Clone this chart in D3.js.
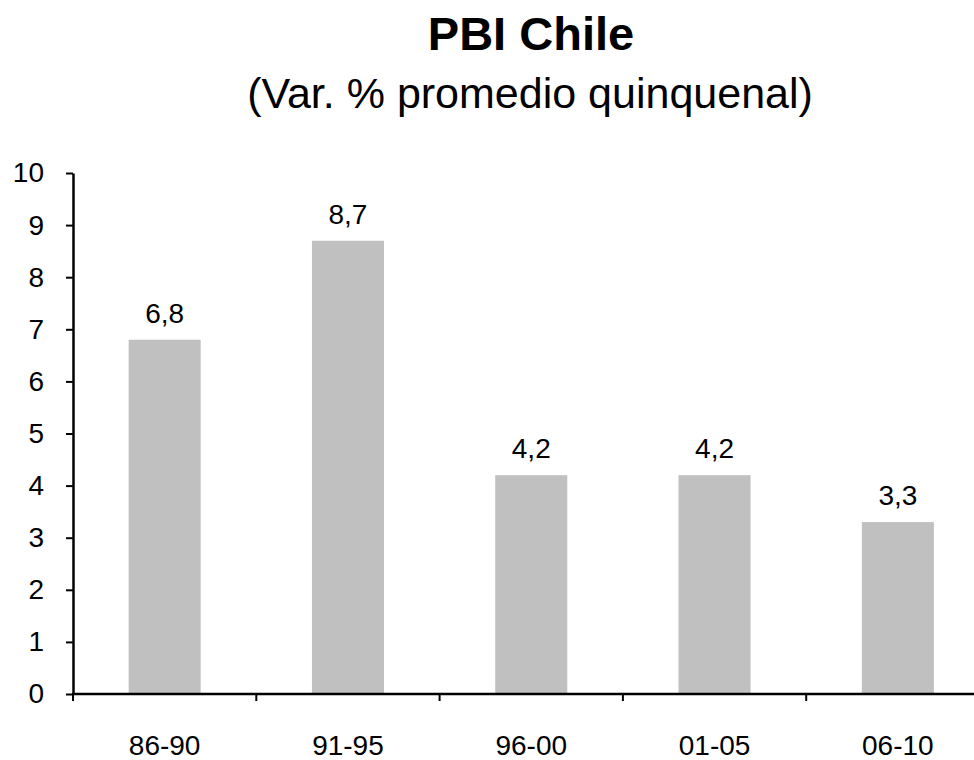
<!DOCTYPE html>
<html>
<head>
<meta charset="utf-8">
<script src="https://cdn.jsdelivr.net/npm/d3@7"></script>
<style>
  html, body { margin: 0; padding: 0; background: #fff; }
  svg { display: block; font-family: "Liberation Sans", Arial, sans-serif; }
</style>
</head>
<body>
<svg id="chart" width="974" height="760"></svg>
<script>
// Five-year average GDP growth, Chile
const periods = ["86-90", "91-95", "96-00", "01-05", "06-10"];
const growth = [6.8, 8.7, 4.2, 4.2, 3.3];
const yTicks = [0, 1, 2, 3, 4, 5, 6, 7, 8, 9, 10];
const titleText = "PBI Chile";
const subtitleText = "(Var. % promedio quinquenal)";

const svg = d3.select("#chart");
const barColor = "#c0c0c0";

const y = d3.scaleLinear().domain([0, 10]).range([694, 173]);
const x = d3.scaleBand()
  .domain(periods)
  .range([73, 989.5])
  .paddingInner(0.607)
  .paddingOuter(0.3035);

// Titles
svg.append("text")
  .attr("x", 531).attr("y", 50)
  .attr("text-anchor", "middle")
  .attr("font-size", 47).attr("font-weight", "bold")
  .text(titleText);

svg.append("text")
  .attr("x", 530).attr("y", 108)
  .attr("text-anchor", "middle")
  .attr("font-size", 43)
  .text(subtitleText);

// Bars
svg.append("g").selectAll("rect")
  .data(periods)
  .join("rect")
  .attr("x", d => x(d))
  .attr("width", x.bandwidth())
  .attr("y", (d, i) => y(growth[i]))
  .attr("height", (d, i) => y(0) - y(growth[i]))
  .attr("fill", barColor);

// Value labels
const fmt = v => d3.format(".1f")(v).replace(".", ",");
svg.append("g").selectAll("text")
  .data(periods)
  .join("text")
  .attr("x", d => x(d) + x.bandwidth() / 2)
  .attr("y", (d, i) => y(growth[i]) - 17)
  .attr("text-anchor", "middle")
  .attr("font-size", 28)
  .text((d, i) => fmt(growth[i]));

// Y axis
const yAxis = svg.append("g")
  .attr("transform", "translate(73,0)")
  .call(d3.axisLeft(y).tickValues(yTicks).tickSize(7).tickPadding(22).tickSizeOuter(0));
yAxis.selectAll("text").attr("font-size", 28).attr("fill", "#000").attr("font-family", "Liberation Sans, Arial, sans-serif");
yAxis.selectAll("line").attr("stroke", "#000").attr("stroke-width", 2);
yAxis.select(".domain").attr("stroke", "#000").attr("stroke-width", 2.5);

// X axis: line, boundary ticks, centred labels
const xAxis = svg.append("g").attr("transform", `translate(0,${y(0)})`);
xAxis.append("line")
  .attr("x1", 72).attr("x2", 974)
  .attr("stroke", "#000").attr("stroke-width", 2.5);
const boundaries = d3.range(periods.length + 1).map(i => x.range()[0] + i * x.step());
xAxis.selectAll("line.tick")
  .data(boundaries)
  .join("line")
  .attr("class", "tick")
  .attr("x1", d => d).attr("x2", d => d)
  .attr("y1", 0).attr("y2", 7)
  .attr("stroke", "#000").attr("stroke-width", 2);
xAxis.selectAll("text")
  .data(periods)
  .join("text")
  .attr("x", d => x(d) + x.bandwidth() / 2)
  .attr("y", 61)
  .attr("text-anchor", "middle")
  .attr("font-size", 28)
  .text(d => d);
</script>
</body>
</html>
